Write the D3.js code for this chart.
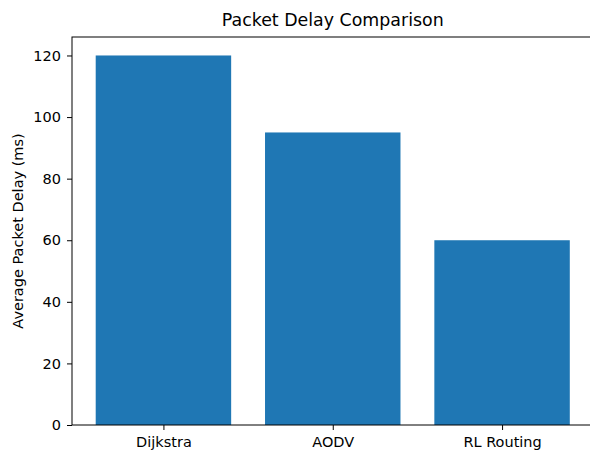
<!DOCTYPE html>
<html><head><meta charset="utf-8">
<script src="https://cdn.jsdelivr.net/npm/d3@7"></script>
<style>body{margin:0;background:#fff}svg{display:block}text{font-family:"DejaVu Sans",sans-serif;fill:#000}</style>
</head><body><svg id="c" width="590" height="451"></svg>
<script>
const categories = ["Dijkstra", "AODV", "RL Routing"];
const delays = [120, 95, 60];
const yTicks = [0, 20, 40, 60, 80, 100, 120];

const svg = d3.select("#c");
const L = 72, R = 593.5, T = 37, B = 425;
const x = d3.scaleLinear().domain([-0.54, 2.54]).range([L, R]);
const y = d3.scaleLinear().domain([0, 126]).range([B, T]);

svg.selectAll("rect.bar").data(delays).join("rect")
  .attr("class", "bar")
  .attr("x", (d, i) => x(i - 0.4))
  .attr("width", (d, i) => x(i + 0.4) - x(i - 0.4))
  .attr("y", d => y(d))
  .attr("height", d => y(0) - y(d))
  .attr("fill", "#1f77b4");

const yAxis = svg.append("g").attr("transform", `translate(${L},0)`)
  .call(d3.axisLeft(y).tickValues(yTicks).tickSize(5).tickPadding(6));
const xAxis = svg.append("g").attr("transform", `translate(0,${B})`)
  .call(d3.axisBottom(x).tickValues([0, 1, 2]).tickFormat(i => categories[i]).tickSize(5).tickPadding(7));
[yAxis, xAxis].forEach(g => {
  g.select(".domain").remove();
  g.selectAll("line").attr("stroke", "#000").attr("stroke-width", 1);
  g.selectAll("text").attr("font-size", "14.5px").attr("font-family", "DejaVu Sans").attr("fill", "#000");
});

// spines
svg.append("rect").attr("x", L).attr("y", T).attr("width", R - L).attr("height", B - T)
  .attr("fill", "none").attr("stroke", "#000").attr("stroke-width", 1);

svg.append("text").attr("x", (L + R) / 2).attr("y", 26).attr("text-anchor", "middle")
  .attr("font-size", "17.4px").text("Packet Delay Comparison");

svg.append("text").attr("transform", `translate(23,${(T + B) / 2}) rotate(-90)`)
  .attr("text-anchor", "middle").attr("font-size", "14.5px").text("Average Packet Delay (ms)");
</script></body></html>
